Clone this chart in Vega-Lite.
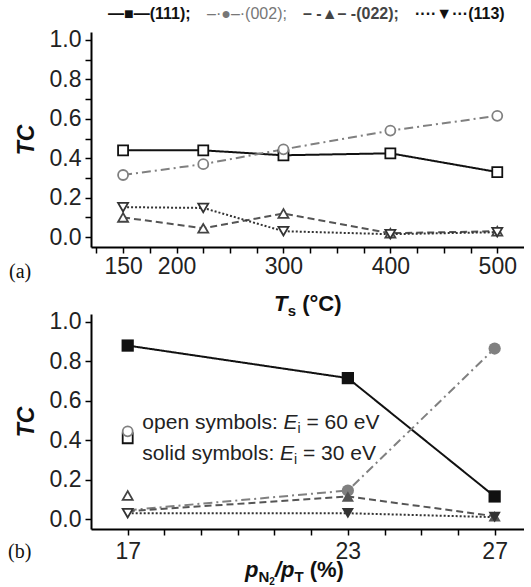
{
  "$schema": "https://vega.github.io/schema/vega-lite/v6.json",
  "padding": {"left": 8, "top": 6, "right": 0, "bottom": 0},
  "background": "white",
  "bounds": "flush",
  "spacing": 67,
  "config": {
    "view": {"stroke": null},
    "font": "Liberation Sans",
    "axis": {
      "grid": false,
      "domainColor": "#000",
      "domainWidth": 2,
      "tickColor": "#000",
      "tickWidth": 1.5,
      "tickSize": 6,
      "labelFont": "Liberation Sans",
      "labelFontSize": 23,
      "labelColor": "#222",
      "labelOverlap": false,
      "labelFlush": false,
      "titleFont": "Liberation Sans",
      "titleFontSize": 23,
      "titleFontWeight": "bold",
      "titleFontStyle": "italic",
      "titleColor": "#111"
    }
  },
  "resolve": {"scale": {"color": "independent", "stroke": "independent", "shape": "independent", "strokeDash": "independent", "x": "independent", "y": "independent"}},
  "datasets": {
    "a": [
      {"T": 150, "TC": 0.44, "plane": "(111)"},
      {"T": 225, "TC": 0.44, "plane": "(111)"},
      {"T": 300, "TC": 0.415, "plane": "(111)"},
      {"T": 400, "TC": 0.425, "plane": "(111)"},
      {"T": 500, "TC": 0.33, "plane": "(111)"},
      {"T": 150, "TC": 0.315, "plane": "(002)"},
      {"T": 225, "TC": 0.37, "plane": "(002)"},
      {"T": 300, "TC": 0.445, "plane": "(002)"},
      {"T": 400, "TC": 0.54, "plane": "(002)"},
      {"T": 500, "TC": 0.615, "plane": "(002)"},
      {"T": 150, "TC": 0.1, "plane": "(022)"},
      {"T": 225, "TC": 0.045, "plane": "(022)"},
      {"T": 300, "TC": 0.12, "plane": "(022)"},
      {"T": 400, "TC": 0.02, "plane": "(022)"},
      {"T": 500, "TC": 0.03, "plane": "(022)"},
      {"T": 150, "TC": 0.152, "plane": "(113)"},
      {"T": 225, "TC": 0.148, "plane": "(113)"},
      {"T": 300, "TC": 0.03, "plane": "(113)"},
      {"T": 400, "TC": 0.015, "plane": "(113)"},
      {"T": 500, "TC": 0.025, "plane": "(113)"}
    ],
    "b": [
      {"p": 17, "TC": 0.88, "plane": "(111)", "Ei": "30 eV"},
      {"p": 23, "TC": 0.715, "plane": "(111)", "Ei": "30 eV"},
      {"p": 27, "TC": 0.115, "plane": "(111)", "Ei": "30 eV"},
      {"p": 17, "TC": 0.045, "plane": "(002)", "Ei": "30 eV"},
      {"p": 23, "TC": 0.145, "plane": "(002)", "Ei": "30 eV"},
      {"p": 27, "TC": 0.865, "plane": "(002)", "Ei": "30 eV"},
      {"p": 17, "TC": 0.04, "plane": "(022)", "Ei": "30 eV"},
      {"p": 23, "TC": 0.115, "plane": "(022)", "Ei": "30 eV"},
      {"p": 27, "TC": 0.015, "plane": "(022)", "Ei": "30 eV"},
      {"p": 17, "TC": 0.03, "plane": "(113)", "Ei": "30 eV"},
      {"p": 23, "TC": 0.03, "plane": "(113)", "Ei": "30 eV"},
      {"p": 27, "TC": 0.01, "plane": "(113)", "Ei": "30 eV"},
      {"p": 17, "TC": 0.41, "plane": "(111)", "Ei": "60 eV"},
      {"p": 17, "TC": 0.445, "plane": "(002)", "Ei": "60 eV"},
      {"p": 17, "TC": 0.12, "plane": "(022)", "Ei": "60 eV"},
      {"p": 17, "TC": 0.03, "plane": "(113)", "Ei": "60 eV"}
    ],
    "one": [{"k": 1}]
  },
  "vconcat": [
    {
      "width": 433,
      "height": 215,
      "layer": [
        {
          "data": {"name": "a"},
          "mark": {"type": "line", "strokeWidth": 2},
          "encoding": {
            "x": {"field": "T", "type": "quantitative", "scale": {"domain": [120, 525], "nice": false, "zero": false},
              "axis": {"title": null, "format": "d", "values": [125,150,175,200,225,250,275,300,325,350,375,400,425,450,475,500], "labelExpr": "indexof([150,200,300,400,500], datum.value) >= 0 ? datum.label : ''", "labelPadding": 2}},
            "y": {"field": "TC", "type": "quantitative", "scale": {"domain": [-0.05, 1.04], "nice": false, "zero": false},
              "axis": {"title": "TC", "titlePadding": 11, "values": [0,0.1,0.2,0.3,0.4,0.5,0.6,0.7,0.8,0.9,1.0], "format": ".1f", "labelExpr": "round(datum.value*10) % 2 == 0 ? datum.label : ''", "labelPadding": 4}},
            "color": {"field": "plane", "type": "nominal",
              "scale": {"domain": ["(111)", "(002)", "(022)", "(113)"], "range": ["#111111", "#808080", "#555555", "#333333"]},
              "legend": {
                "orient": "none", "legendX": 1, "legendY": -26, "direction": "horizontal", "title": null,
                "symbolSize": 0.01, "symbolOpacity": 0, "symbolStrokeWidth": 0, "symbolOffset": 0, "labelOffset": 0, "columnPadding": 0, "padding": 0,
                "labelFont": "Liberation Sans", "labelFontSize": 16, "labelFontWeight": "bold", "labelLimit": 0,
                "labelExpr": "datum.value == '(111)' ? '—■—(111);' : datum.value == '(002)' ? '–·●–·(002);' : datum.value == '(022)' ? '– -▲– -(022);' : '····▼···(113)'",
                "encode": {"labels": {"update": {
                  "fill": {"signal": "datum.value == '(002)' ? '#777777' : datum.value == '(022)' ? '#444444' : '#111111'"},
                  "fontWeight": {"signal": "datum.value == '(002)' ? 'normal' : 'bold'"}
                }}}
              }},
            "strokeDash": {"field": "plane", "type": "nominal",
              "scale": {"domain": ["(111)", "(002)", "(022)", "(113)"], "range": [[1, 0], [9, 4, 2, 4], [7, 4], [2, 2]]},
              "legend": null}
          }
        },
        {
          "data": {"name": "a"},
          "mark": {"type": "point", "filled": true, "fill": "white", "size": 100, "strokeWidth": 1.8, "opacity": 1},
          "encoding": {
            "x": {"field": "T", "type": "quantitative",
              "axis": {"title": null, "format": "d", "values": [125,150,175,200,225,250,275,300,325,350,375,400,425,450,475,500], "labelExpr": "indexof([150,200,300,400,500], datum.value) >= 0 ? datum.label : ''", "labelPadding": 2}},
            "y": {"field": "TC", "type": "quantitative",
              "axis": {"title": "TC", "titlePadding": 11, "values": [0,0.1,0.2,0.3,0.4,0.5,0.6,0.7,0.8,0.9,1.0], "format": ".1f", "labelExpr": "round(datum.value*10) % 2 == 0 ? datum.label : ''", "labelPadding": 4}},
            "shape": {"field": "plane", "type": "nominal",
              "scale": {"domain": ["(111)", "(002)", "(022)", "(113)"], "range": ["square", "circle", "triangle-up", "triangle-down"]},
              "legend": null},
            "stroke": {"field": "plane", "type": "nominal",
              "scale": {"domain": ["(111)", "(002)", "(022)", "(113)"], "range": ["#111111", "#808080", "#444444", "#333333"]},
              "legend": null}
          }
        },
        {
          "data": {"name": "one"},
          "mark": {"type": "text", "text": "T", "align": "left", "baseline": "alphabetic", "dx": -33.6, "dy": 64, "fontSize": 22, "fontWeight": "bold", "fontStyle": "italic", "fill": "#111"},
          "encoding": {
            "x": {"datum": 322.5, "type": "quantitative",
              "axis": {"title": null, "format": "d", "values": [125,150,175,200,225,250,275,300,325,350,375,400,425,450,475,500], "labelExpr": "indexof([150,200,300,400,500], datum.value) >= 0 ? datum.label : ''", "labelPadding": 2}},
            "y": {"datum": -0.05, "type": "quantitative",
              "axis": {"title": "TC", "titlePadding": 11, "values": [0,0.1,0.2,0.3,0.4,0.5,0.6,0.7,0.8,0.9,1.0], "format": ".1f", "labelExpr": "round(datum.value*10) % 2 == 0 ? datum.label : ''", "labelPadding": 4}}
          }
        },
        {
          "data": {"name": "one"},
          "mark": {"type": "text", "text": "s", "align": "left", "baseline": "alphabetic", "dx": -19.7, "dy": 69, "fontSize": 15, "fontWeight": "bold", "fill": "#111"},
          "encoding": {
            "x": {"datum": 322.5, "type": "quantitative",
              "axis": {"title": null, "format": "d", "values": [125,150,175,200,225,250,275,300,325,350,375,400,425,450,475,500], "labelExpr": "indexof([150,200,300,400,500], datum.value) >= 0 ? datum.label : ''", "labelPadding": 2}},
            "y": {"datum": -0.05, "type": "quantitative",
              "axis": {"title": "TC", "titlePadding": 11, "values": [0,0.1,0.2,0.3,0.4,0.5,0.6,0.7,0.8,0.9,1.0], "format": ".1f", "labelExpr": "round(datum.value*10) % 2 == 0 ? datum.label : ''", "labelPadding": 4}}
          }
        },
        {
          "data": {"name": "one"},
          "mark": {"type": "text", "text": "(°C)", "align": "left", "baseline": "alphabetic", "dx": -5.3, "dy": 64, "fontSize": 22, "fontWeight": "bold", "fill": "#111"},
          "encoding": {
            "x": {"datum": 322.5, "type": "quantitative",
              "axis": {"title": null, "format": "d", "values": [125,150,175,200,225,250,275,300,325,350,375,400,425,450,475,500], "labelExpr": "indexof([150,200,300,400,500], datum.value) >= 0 ? datum.label : ''", "labelPadding": 2}},
            "y": {"datum": -0.05, "type": "quantitative",
              "axis": {"title": "TC", "titlePadding": 11, "values": [0,0.1,0.2,0.3,0.4,0.5,0.6,0.7,0.8,0.9,1.0], "format": ".1f", "labelExpr": "round(datum.value*10) % 2 == 0 ? datum.label : ''", "labelPadding": 4}}
          }
        },
        {
          "data": {"name": "one"},
          "mark": {"type": "text", "text": "(a)", "align": "left", "baseline": "alphabetic", "dx": -82, "dy": 31, "font": "Liberation Serif", "fontSize": 20, "fill": "#111"},
          "encoding": {
            "x": {"datum": 120, "type": "quantitative",
              "axis": {"title": null, "format": "d", "values": [125,150,175,200,225,250,275,300,325,350,375,400,425,450,475,500], "labelExpr": "indexof([150,200,300,400,500], datum.value) >= 0 ? datum.label : ''", "labelPadding": 2}},
            "y": {"datum": -0.05, "type": "quantitative",
              "axis": {"title": "TC", "titlePadding": 11, "values": [0,0.1,0.2,0.3,0.4,0.5,0.6,0.7,0.8,0.9,1.0], "format": ".1f", "labelExpr": "round(datum.value*10) % 2 == 0 ? datum.label : ''", "labelPadding": 4}}
          }
        }
      ]
    },
    {
      "width": 433,
      "height": 215,
      "layer": [
        {
          "data": {"name": "b"},
          "transform": [{"filter": "datum.Ei == '30 eV'"}],
          "mark": {"type": "line", "strokeWidth": 2},
          "encoding": {
            "x": {"field": "p", "type": "quantitative", "scale": {"domain": [16, 27.8], "nice": false, "zero": false},
              "axis": {"title": null, "format": "d", "values": [17,18,19,20,21,22,23,24,25,26,27], "labelExpr": "indexof([17,23,27], datum.value) >= 0 ? datum.label : ''", "labelPadding": 5}},
            "y": {"field": "TC", "type": "quantitative", "scale": {"domain": [-0.05, 1.04], "nice": false, "zero": false},
              "axis": {"title": "TC", "titlePadding": 11, "values": [0,0.1,0.2,0.3,0.4,0.5,0.6,0.7,0.8,0.9,1.0], "format": ".1f", "labelExpr": "round(datum.value*10) % 2 == 0 ? datum.label : ''", "labelPadding": 4}},
            "color": {"field": "plane", "type": "nominal",
              "scale": {"domain": ["(111)", "(002)", "(022)", "(113)"], "range": ["#111111", "#808080", "#555555", "#333333"]},
              "legend": null},
            "strokeDash": {"field": "plane", "type": "nominal",
              "scale": {"domain": ["(111)", "(002)", "(022)", "(113)"], "range": [[1, 0], [9, 4, 2, 4], [7, 4], [2, 2]]},
              "legend": null}
          }
        },
        {
          "data": {"name": "b"},
          "transform": [{"filter": "datum.Ei == '60 eV'"}],
          "mark": {"type": "point", "filled": true, "fill": "white", "size": 100, "strokeWidth": 1.8, "opacity": 1},
          "encoding": {
            "x": {"field": "p", "type": "quantitative"},
            "y": {"field": "TC", "type": "quantitative"},
            "shape": {"field": "plane", "type": "nominal",
              "scale": {"domain": ["(111)", "(002)", "(022)", "(113)"], "range": ["square", "circle", "triangle-up", "triangle-down"]},
              "legend": null},
            "stroke": {"field": "plane", "type": "nominal",
              "scale": {"domain": ["(111)", "(002)", "(022)", "(113)"], "range": ["#111111", "#808080", "#444444", "#333333"]},
              "legend": null}
          }
        },
        {
          "data": {"name": "b"},
          "transform": [{"filter": "datum.Ei == '30 eV' && (datum.plane == '(111)' || datum.p != 17)"}],
          "mark": {"type": "point", "filled": true, "size": 150, "opacity": 1},
          "encoding": {
            "x": {"field": "p", "type": "quantitative"},
            "y": {"field": "TC", "type": "quantitative"},
            "shape": {"field": "plane", "type": "nominal",
              "scale": {"domain": ["(111)", "(002)", "(022)", "(113)"], "range": ["square", "circle", "triangle-up", "triangle-down"]},
              "legend": null},
            "color": {"field": "plane", "type": "nominal", "legend": null}
          }
        },
        {
          "data": {"name": "one"},
          "mark": {"type": "text", "text": "open symbols:", "align": "left", "baseline": "alphabetic", "fontSize": 21, "fill": "#222"},
          "encoding": {"x": {"datum": 17.4}, "y": {"datum": 0.457}}
        },
        {
          "data": {"name": "one"},
          "mark": {"type": "text", "text": "E", "align": "left", "baseline": "alphabetic", "dx": 141.2, "fontSize": 21, "fontStyle": "italic", "fill": "#222"},
          "encoding": {"x": {"datum": 17.4}, "y": {"datum": 0.457}}
        },
        {
          "data": {"name": "one"},
          "mark": {"type": "text", "text": "i", "align": "left", "baseline": "alphabetic", "dx": 155.2, "dy": 4, "fontSize": 14, "fill": "#222"},
          "encoding": {"x": {"datum": 17.4}, "y": {"datum": 0.457}}
        },
        {
          "data": {"name": "one"},
          "mark": {"type": "text", "text": "= 60 eV", "align": "left", "baseline": "alphabetic", "dx": 164.1, "fontSize": 21, "fill": "#222"},
          "encoding": {"x": {"datum": 17.4}, "y": {"datum": 0.457}}
        },
        {
          "data": {"name": "one"},
          "mark": {"type": "text", "text": "solid symbols:", "align": "left", "baseline": "alphabetic", "fontSize": 21, "fill": "#222"},
          "encoding": {"x": {"datum": 17.4}, "y": {"datum": 0.3}}
        },
        {
          "data": {"name": "one"},
          "mark": {"type": "text", "text": "E", "align": "left", "baseline": "alphabetic", "dx": 137.7, "fontSize": 21, "fontStyle": "italic", "fill": "#222"},
          "encoding": {"x": {"datum": 17.4}, "y": {"datum": 0.3}}
        },
        {
          "data": {"name": "one"},
          "mark": {"type": "text", "text": "i", "align": "left", "baseline": "alphabetic", "dx": 151.7, "dy": 4, "fontSize": 14, "fill": "#222"},
          "encoding": {"x": {"datum": 17.4}, "y": {"datum": 0.3}}
        },
        {
          "data": {"name": "one"},
          "mark": {"type": "text", "text": "= 30 eV", "align": "left", "baseline": "alphabetic", "dx": 160.6, "fontSize": 21, "fill": "#222"},
          "encoding": {"x": {"datum": 17.4}, "y": {"datum": 0.3}}
        },
        {
          "data": {"name": "one"},
          "mark": {"type": "text", "text": "p", "align": "left", "baseline": "alphabetic", "dx": -62.4, "dy": 48, "fontSize": 22, "fontWeight": "bold", "fontStyle": "italic", "fill": "#111"},
          "encoding": {"x": {"datum": 21.9}, "y": {"datum": -0.05}}
        },
        {
          "data": {"name": "one"},
          "mark": {"type": "text", "text": "N", "align": "left", "baseline": "alphabetic", "dx": -49, "dy": 53, "fontSize": 15, "fontWeight": "bold", "fill": "#111"},
          "encoding": {"x": {"datum": 21.9}, "y": {"datum": -0.05}}
        },
        {
          "data": {"name": "one"},
          "mark": {"type": "text", "text": "2", "align": "left", "baseline": "alphabetic", "dx": -38.2, "dy": 56, "fontSize": 10, "fontWeight": "bold", "fill": "#111"},
          "encoding": {"x": {"datum": 21.9}, "y": {"datum": -0.05}}
        },
        {
          "data": {"name": "one"},
          "mark": {"type": "text", "text": "/", "align": "left", "baseline": "alphabetic", "dx": -32.6, "dy": 48, "fontSize": 22, "fontWeight": "bold", "fontStyle": "italic", "fill": "#111"},
          "encoding": {"x": {"datum": 21.9}, "y": {"datum": -0.05}}
        },
        {
          "data": {"name": "one"},
          "mark": {"type": "text", "text": "p", "align": "left", "baseline": "alphabetic", "dx": -26.5, "dy": 48, "fontSize": 22, "fontWeight": "bold", "fontStyle": "italic", "fill": "#111"},
          "encoding": {"x": {"datum": 21.9}, "y": {"datum": -0.05}}
        },
        {
          "data": {"name": "one"},
          "mark": {"type": "text", "text": "T", "align": "left", "baseline": "alphabetic", "dx": -13.1, "dy": 53, "fontSize": 15, "fontWeight": "bold", "fill": "#111"},
          "encoding": {"x": {"datum": 21.9}, "y": {"datum": -0.05}}
        },
        {
          "data": {"name": "one"},
          "mark": {"type": "text", "text": "(%)", "align": "left", "baseline": "alphabetic", "dx": 2.2, "dy": 48, "fontSize": 22, "fontWeight": "bold", "fill": "#111"},
          "encoding": {"x": {"datum": 21.9}, "y": {"datum": -0.05}}
        },
        {
          "data": {"name": "one"},
          "mark": {"type": "text", "text": "(b)", "align": "left", "baseline": "alphabetic", "dx": -83, "dy": 29, "font": "Liberation Serif", "fontSize": 20, "fill": "#111"},
          "encoding": {"x": {"datum": 16}, "y": {"datum": -0.05}}
        }
      ]
    }
  ]
}
